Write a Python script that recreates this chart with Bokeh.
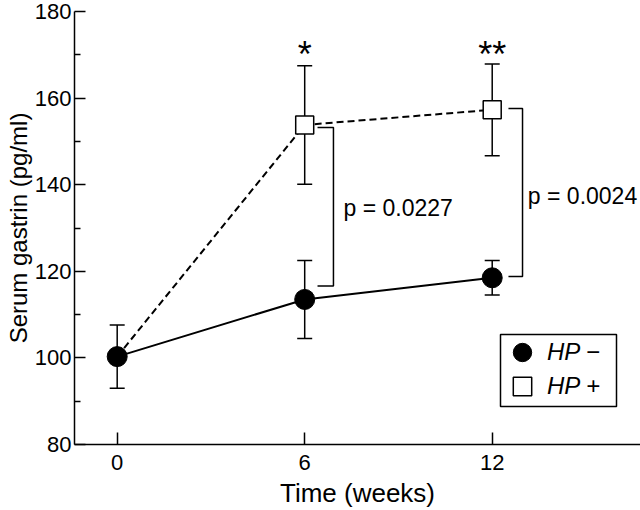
from bokeh.plotting import figure
from bokeh.models import (ColumnDataSource, Whisker, TeeHead, FixedTicker,
                          Legend, LegendItem, Range1d, BoxAnnotation)
from bokeh.core.properties import value
from bokeh.embed import file_html
from bokeh.resources import INLINE

# ---- data ----
weeks = [0, 6, 12]
hp_neg_mean = [100.3, 113.5, 118.5]
hp_neg_err = [7.3, 9.0, 4.0]
hp_pos_weeks = [6, 12]
hp_pos_mean = [153.8, 157.3]
hp_pos_err = [13.7, 10.6]
hp_pos_line_x = [0, 6, 12]
hp_pos_line_y = [100.3, 153.8, 157.3]

sig_weeks = [6, 12]
sig_labels = ["*", "**"]
sig_y = [170.0, 170.0]

p_labels = ["p = 0.0227", "p = 0.0024"]
p_x = [7.24, 13.14]
p_y = [134.7, 137.5]

bracket_inner = [6.41, 12.52]
bracket_outer = [6.92, 12.97]
bracket_top = [153.2, 157.6]
bracket_bottom = [116.6, 118.8]

x_ticks = [0, 6, 12]
y_ticks = [80, 100, 120, 140, 160, 180]
y_minor = [90, 110, 130, 150, 170]

x_title = "Time (weeks)"
y_title = "Serum gastrin (pg/ml)"

FONT = "Liberation Sans"

p = figure(width=640, height=510, x_range=Range1d(-1.366, 16.745), y_range=Range1d(80, 180),
           output_backend="svg", toolbar_location=None,
           min_border_left=74, min_border_right=0, min_border_top=11, min_border_bottom=66)
p.outline_line_color = None
p.xgrid.visible = False
p.ygrid.visible = False
p.background_fill_color = "white"
p.border_fill_color = "white"

# axes
for ax in (p.xaxis[0], p.yaxis[0]):
    ax.axis_line_color = "black"
    ax.axis_line_width = 1.5
    ax.major_tick_line_color = "black"
    ax.major_tick_line_width = 1.5
    ax.minor_tick_line_color = "black"
    ax.minor_tick_line_width = 1.5
    ax.major_tick_out = 0
    ax.minor_tick_out = 0
    ax.major_label_text_font = FONT
    ax.major_label_text_font_size = "22px"
    ax.major_label_text_color = "black"
    ax.axis_label_text_font = FONT
    ax.axis_label_text_font_style = "normal"
    ax.axis_label_text_color = "black"

p.xaxis.ticker = FixedTicker(ticks=x_ticks, minor_ticks=[])
p.xaxis.major_tick_in = 12
p.xaxis.minor_tick_in = 0
p.xaxis.major_label_standoff = 10
p.xaxis.axis_label = x_title
p.xaxis.axis_label_text_font_size = "26px"
p.xaxis.axis_label_standoff = 5

p.yaxis.ticker = FixedTicker(ticks=y_ticks, minor_ticks=y_minor)
p.yaxis.major_tick_in = 11
p.yaxis.minor_tick_in = 6
p.yaxis.major_label_standoff = 3
p.yaxis.axis_label = y_title
p.yaxis.axis_label_text_font_size = "24px"
p.yaxis.axis_label_standoff = 0

# lines
p.line(hp_pos_line_x, hp_pos_line_y, line_color="black", line_width=2, line_dash="7 4")
p.line(weeks, hp_neg_mean, line_color="black", line_width=2)

# error bars
neg_src = ColumnDataSource(dict(x=weeks,
                                upper=[m + e for m, e in zip(hp_neg_mean, hp_neg_err)],
                                lower=[m - e for m, e in zip(hp_neg_mean, hp_neg_err)]))
pos_src = ColumnDataSource(dict(x=hp_pos_weeks,
                                upper=[m + e for m, e in zip(hp_pos_mean, hp_pos_err)],
                                lower=[m - e for m, e in zip(hp_pos_mean, hp_pos_err)]))
for src in (neg_src, pos_src):
    w = Whisker(source=src, base="x", upper="upper", lower="lower",
                line_color="black", line_width=1.5, level="underlay",
                upper_head=TeeHead(size=15, line_color="black", line_width=1.5),
                lower_head=TeeHead(size=15, line_color="black", line_width=1.5))
    p.add_layout(w)

# brackets
bxs = [[i, o, o, i] for i, o in zip(bracket_inner, bracket_outer)]
bys = [[t, t, b, b] for t, b in zip(bracket_top, bracket_bottom)]
p.multi_line(bxs, bys, line_color="black", line_width=1.5)

# markers
r_pos = p.scatter(hp_pos_weeks, hp_pos_mean, marker="square", size=18,
                  fill_color="white", line_color="black", line_width=1.5)
r_neg = p.scatter(weeks, hp_neg_mean, marker="circle", size=20,
                  fill_color="black", line_color="black")

# significance stars and p values
p.text(sig_weeks, sig_y, text=sig_labels, text_font=value(FONT), text_font_size="36px",
       text_align="center", text_baseline="alphabetic", text_color="black")
p.text(p_x, p_y, text=p_labels, text_font=value(FONT), text_font_size="23px",
       text_align="left", text_baseline="middle", text_color="black")

# legend: a framed box holding two single-entry legends
p.add_layout(BoxAnnotation(left=426, right=542, bottom=38, top=110,
                           left_units="screen", right_units="screen",
                           bottom_units="screen", top_units="screen",
                           fill_color="white", fill_alpha=1.0,
                           line_color="black", line_alpha=1.0, line_width=1.5))
for item, loc in ((LegendItem(label="HP \u2212", renderers=[r_neg]), (425, 69)),
                  (LegendItem(label="HP +", renderers=[r_pos]), (425, 35))):
    lg = Legend(items=[item], location=loc, glyph_width=46, glyph_height=46,
                padding=0, margin=0, label_standoff=2, label_width=60,
                label_text_font=FONT, label_text_font_size="24px",
                label_text_font_style="italic", label_text_color="black",
                border_line_color=None, background_fill_alpha=0.0)
    p.add_layout(lg)

open("out.html", "w").write(file_html(p, INLINE))
